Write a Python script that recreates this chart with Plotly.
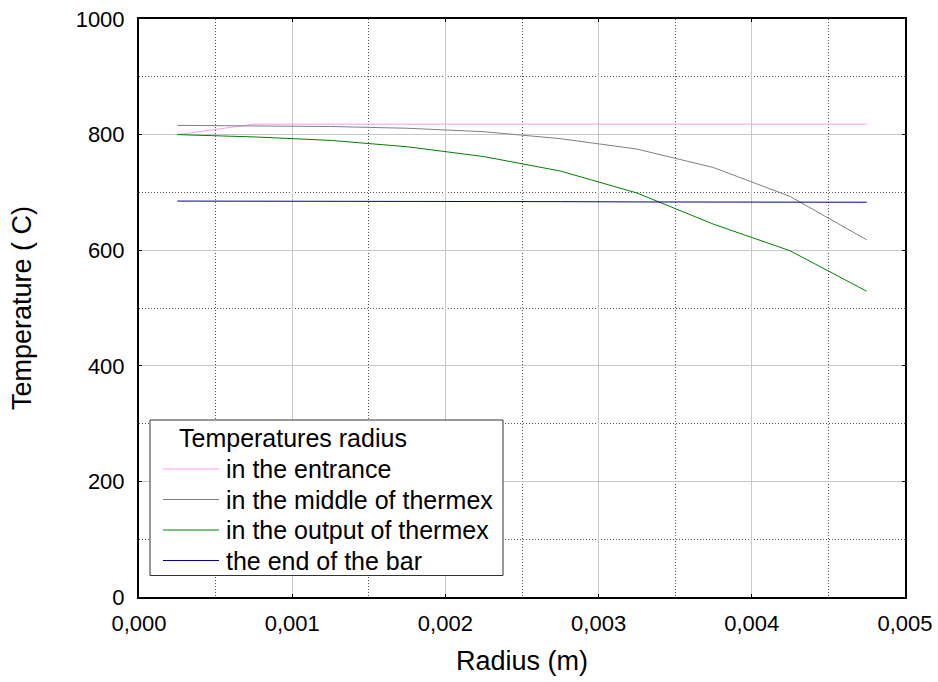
import plotly.graph_objects as go

radius = [0.00025, 0.00075, 0.00125, 0.00175, 0.00225, 0.00275, 0.00325, 0.00375, 0.00425, 0.00475]
t_entrance = [800, 818, 818, 818, 818, 818, 818, 818, 818, 818]
t_middle = [816, 815, 814, 811, 805, 793, 775, 743, 693, 618]
t_output = [800, 796, 790, 779, 762, 737, 699, 645, 599, 529]
t_end = [685, 685, 684.5, 684, 684, 684, 683.5, 683, 683, 683]

series_names = ["in the entrance", "in the middle of thermex", "in the output of thermex", "the end of the bar"]
series_colors = ["#ff99ff", "#808080", "#008000", "#000099"]
legend_title = "Temperatures radius"

x_tickvals = [0, 0.001, 0.002, 0.003, 0.004, 0.005]
x_ticktext = ["0,000", "0,001", "0,002", "0,003", "0,004", "0,005"]
y_tickvals = [0, 200, 400, 600, 800, 1000]
y_ticktext = ["0", "200", "400", "600", "800", "1000"]

FONT = "Liberation Sans, Arial, sans-serif"
W, H = 938, 682
ML, MR, MT, MB = 139, 33, 19, 85
PW, PH = W - ML - MR, H - MT - MB


def px(xp):
    return (xp - ML) / PW


def py(yp):
    return (H - MB - yp) / PH


fig = go.Figure()
for name, ys, col in zip(series_names, [t_entrance, t_middle, t_output, t_end], series_colors):
    fig.add_trace(go.Scatter(x=radius, y=ys, mode="lines", name=name,
                             line=dict(color=col, width=1), showlegend=False))

axis_common = dict(
    showline=True, linecolor="black", linewidth=2, mirror="ticks",
    ticks="inside", ticklen=3, tickcolor="black", tickwidth=1,
    showgrid=True, gridcolor="#c8c8c8", gridwidth=1,
    zeroline=False,
    tickfont=dict(family=FONT, size=22, color="black"),
)

fig.update_xaxes(
    range=[0, 0.005], tickvals=x_tickvals, ticktext=x_ticktext,
    minor=dict(dtick=0.0005, tick0=0, showgrid=True, gridcolor="#555555", griddash="1px,2px", gridwidth=1),
    title=dict(text="Radius (m)", font=dict(family=FONT, size=27, color="black"), standoff=16),
    ticklabelstandoff=6,
    **axis_common,
)
fig.update_yaxes(
    range=[0, 1000], tickvals=y_tickvals, ticktext=y_ticktext,
    minor=dict(dtick=100, tick0=0, showgrid=True, gridcolor="#555555", griddash="1px,2px", gridwidth=1),
    title=dict(text="Temperature ( C)", font=dict(family=FONT, size=27, color="black"), standoff=36),
    ticklabelstandoff=8,
    **axis_common,
)

# Hand-drawn legend box (matching original layout)
shapes = [dict(type="rect", xref="paper", yref="paper",
               x0=px(150), x1=px(503), y0=py(575.5), y1=py(420),
               line=dict(color="#333333", width=1), fillcolor="white", layer="above")]
annotations = [dict(text=legend_title, xref="paper", yref="paper", x=px(177), y=py(438),
                    xanchor="left", yanchor="middle", showarrow=False,
                    font=dict(family=FONT, size=25, color="black"))]
item_y = [469, 499.5, 530, 560.5]
for name, col, yy in zip(series_names, series_colors, item_y):
    shapes.append(dict(type="line", xref="paper", yref="paper",
                       x0=px(163), x1=px(219), y0=py(yy), y1=py(yy),
                       line=dict(color=col, width=1), layer="above"))
    annotations.append(dict(text=name, xref="paper", yref="paper", x=px(224), y=py(yy),
                            xanchor="left", yanchor="middle", showarrow=False,
                            font=dict(family=FONT, size=25, color="black")))

fig.update_layout(
    width=W, height=H,
    margin=dict(l=ML, r=MR, t=MT, b=MB, autoexpand=False),
    paper_bgcolor="white", plot_bgcolor="white",
    font=dict(family=FONT, color="black"),
    showlegend=False,
    shapes=shapes,
    annotations=annotations,
)

fig.write_html("out.html")
